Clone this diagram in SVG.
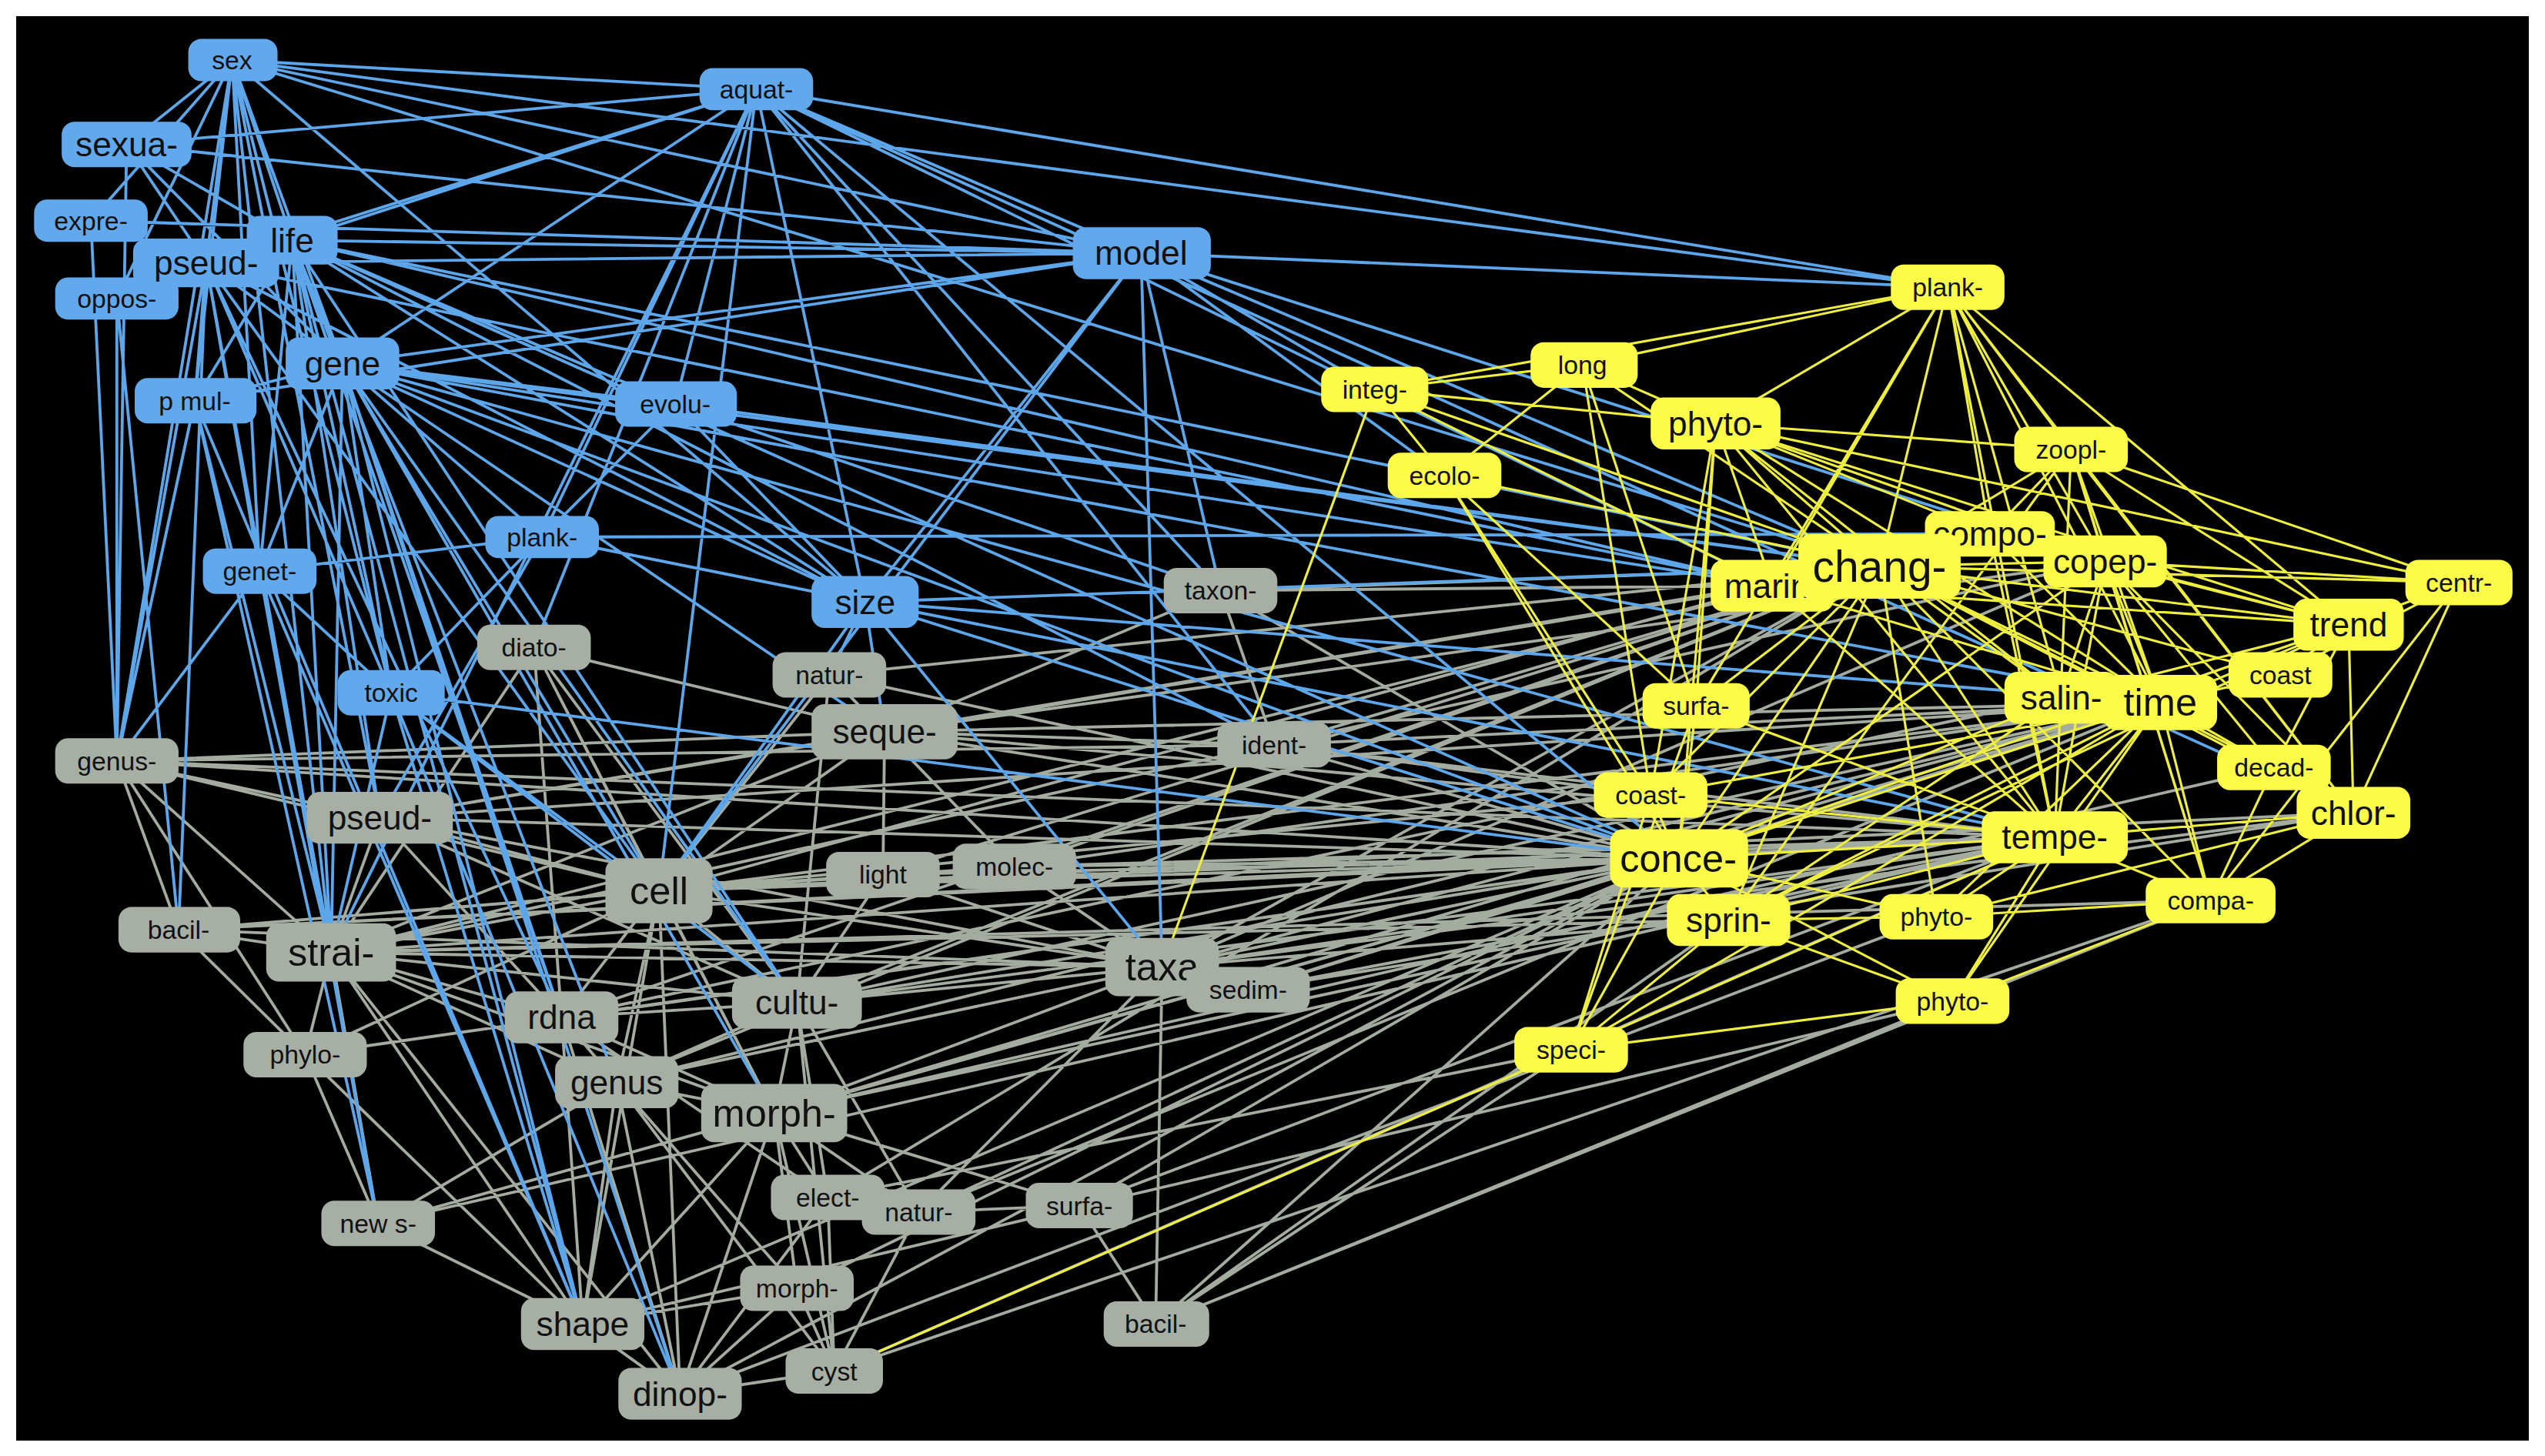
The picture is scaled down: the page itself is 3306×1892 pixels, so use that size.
<svg xmlns="http://www.w3.org/2000/svg" width="3306" height="1892" viewBox="0 0 3306 1892">
<style>
.b rect{fill:#62a8ec}.g rect{fill:#a7afa5}.y rect{fill:#fbfb48}
text{font-family:"Liberation Sans",Arial,sans-serif;font-size:16px;fill:#111;text-anchor:middle;dominant-baseline:central}
.L text{font-size:21px}.XL text{font-size:24px}
.eg{stroke:#a4ab9f;fill:none;stroke-width:1.8}.eb{stroke:#5ea6ea;fill:none;stroke-width:1.8}.ey{stroke:#eeee40;fill:none;stroke-width:1.5}
</style>
<rect width="3306" height="1892" fill="#fff"/>
<rect x="21" y="21" width="3264" height="1851" fill="#000"/>
<g transform="scale(2.1084)">
<g id="connectors">
<path class="eg" d="M72 469L406 549M72 469L234 504M72 469L204 587M72 469L545 451M72 469L1034 529M72 469L110 573M72 469L188 650M234 504L406 549M234 504L204 587M234 504L346 627M234 504L491 618M234 504L545 451M234 504L716 596M234 504L1034 529M406 549L204 587M406 549L346 627M406 549L491 618M406 549L380 667M406 549L477 686M406 549L544 539M406 549L625 534M406 549L716 596M406 549L545 451M406 549L419 859M406 549L359 816M406 549L1034 529M406 549L1266 516M406 549L1331 433M406 549L1017 490M204 587L110 573M204 587L188 650M204 587L346 627M204 587L380 667M204 587L477 686M204 587L491 618M204 587L359 816M204 587L233 754M204 587L419 859M204 587L716 596M204 587L545 451M204 587L1034 529M204 587L1065 567M346 627L380 667M346 627L477 686M346 627L491 618M346 627L359 816M346 627L419 859M346 627L510 738M491 618L477 686M491 618L716 596M491 618L380 667M491 618L510 738M491 618L566 747M491 618L514 845M491 618L544 539M491 618L1034 529M491 618L1331 433M477 686L380 667M477 686L491 794M477 686L510 738M477 686L566 747M477 686L419 859M477 686L514 845M477 686L359 816M477 686L716 596M477 686L665 743M477 686L1034 529M380 667L359 816M380 667L419 859M380 667L233 754M380 667L491 794M380 667L514 845M716 596L769 610M716 596L544 539M716 596L625 534M716 596L1034 529M716 596L1065 567M716 596L1266 516M716 596L1158 349M716 596L712 816M716 596L566 747M545 451L544 539M545 451L625 534M545 451L785 459M545 451L1034 529M545 451L1158 349M545 451L1331 433M545 451L511 416M785 459L1034 529M785 459L1158 349M785 459L752 364M785 459L1017 490M752 364L1158 349M752 364L1092 361M329 399L406 549M329 399L204 587M329 399L346 627M329 399L545 451M511 416L406 549M511 416L1034 529M359 816L419 859M359 816L233 754M359 816L188 650M188 650L233 754M188 650L110 573M510 738L566 747M510 738L514 845M510 738L419 859M510 738L968 647M566 747L665 743M566 747L514 845M665 743L712 816M665 743L1034 529M712 816L1203 617M712 816L968 647M712 816L1034 529M514 845L419 859M514 845L491 794M491 794L419 859M491 794L359 816M769 610L1034 529M769 610L1331 433M769 610L1450 501M544 539L1034 529M625 534L1034 529M625 534L1266 516M625 534L1158 349M110 573L1034 529M110 573L406 549M233 754L1266 516M359 816L1203 617M419 859L1193 565M514 845L1362 555M566 747L1331 433M380 667L1158 349M204 587L1297 346M346 627L1270 430M477 686L1401 473M234 504L1158 349M234 504L1331 433M72 469L1266 516M72 469L785 459M406 549L1092 361M406 549L1450 501M204 587L1226 329M204 587L1362 555M110 573L1266 516M110 573L716 596M346 627L1034 529M346 627L1158 349M491 618L1266 516M491 618L1158 349M477 686L1266 516M477 686L1331 433M716 596L1331 433M716 596L1297 346M716 596L1450 501M545 451L1266 516M545 451L1297 346M545 451L1092 361M785 459L1331 433M785 459L1266 516M625 534L1331 433M544 539L1158 349M769 610L1266 516M380 667L1034 529M380 667L1331 433M233 754L1034 529M359 816L1034 529M419 859L1034 529M514 845L1266 516M566 747L1034 529M665 743L1266 516M712 816L1065 567M712 816L1362 555M510 738L1158 349M491 794L1034 529M752 364L1034 529M752 364L545 451M329 399L491 618M329 399L477 686M511 416L491 618M511 416L1158 349M188 650L1034 529M188 650L406 549"/>
<path class="eb" d="M143 37L466 55M143 37L703 156M143 37L1200 177M143 37L78 89M143 37L56 136M143 37L180 148M143 37L127 162M143 37L72 184M143 37L211 224M143 37L120 247M143 37L160 352M143 37L241 427M143 37L533 371M143 37L204 587M143 37L234 504M143 37L72 469M143 37L1158 349M466 55L78 89M466 55L180 148M466 55L127 162M466 55L211 224M466 55L703 156M466 55L416 249M466 55L334 331M466 55L533 371M466 55L1450 501M466 55L1200 177M466 55L752 364M466 55L785 459M466 55L329 399M466 55L204 587M466 55L406 549M703 156L180 148M703 156L127 162M703 156L211 224M703 156L1200 177M703 156L1158 349M703 156L847 240M703 156L890 293M703 156L533 371M703 156L120 247M703 156L716 596M703 156L406 549M703 156L752 364M703 156L1297 346M703 156L78 89M180 148L211 224M180 148L120 247M180 148L160 352M180 148L241 427M180 148L533 371M180 148L1158 349M180 148L234 504M180 148L204 587M180 148L346 627M180 148L491 618M180 148L359 816M180 148L380 667M180 148L416 249M180 148L785 459M180 148L1092 361M127 162L211 224M127 162L120 247M127 162L160 352M127 162L56 136M127 162L78 89M127 162L241 427M127 162L204 587M127 162L533 371M127 162L406 549M127 162L346 627M127 162L233 754M127 162L72 469M127 162L110 573M211 224L120 247M211 224L416 249M211 224L334 331M211 224L160 352M211 224L533 371M211 224L241 427M211 224L204 587M211 224L406 549M211 224L491 618M211 224L346 627M211 224L477 686M211 224L545 451M211 224L1158 349M211 224L1034 529M211 224L359 816M211 224L419 859M211 224L1331 433M416 249L533 371M416 249L334 331M416 249L1158 349M416 249L752 364M334 331L533 371M334 331L241 427M334 331L160 352M334 331L1226 329M334 331L234 504M533 371L1158 349M533 371L1331 433M533 371L1266 516M533 371L1034 529M533 371L545 451M533 371L511 416M533 371L716 596M533 371L406 549M241 427L204 587M241 427L160 352M241 427L359 816M241 427L406 549M241 427L1034 529M78 89L180 148M78 89L211 224M78 89L72 469M56 136L72 469M72 184L72 469M72 184L110 573M120 247L72 469M120 247L204 587M160 352L204 587M160 352L72 469M160 352L359 816M160 352L233 754M78 89L703 156M56 136L703 156M127 162L1092 361M180 148L1034 529M211 224L1266 516M211 224L1092 361M143 37L127 162M466 55L1092 361M466 55L1034 529M120 247L359 816M120 247L233 754M241 427L419 859M241 427L491 618"/>
<path class="ey" d="M1200 177L975 225M1200 177L1057 261M1200 177L1276 277M1200 177L1226 329M1200 177L1158 349M1200 177L1297 346M1200 177L1331 433M1200 177L1447 385M1200 177L1270 430M1200 177L1266 516M1200 177L1450 501M1200 177L847 240M1200 177L1045 435M1200 177L1092 361M975 225L847 240M975 225L1057 261M975 225L1158 349M975 225L1045 435M975 225L1017 490M975 225L890 293M847 240L890 293M847 240L1057 261M847 240L1158 349M847 240L716 596M847 240L1092 361M1057 261L1158 349M1057 261L1276 277M1057 261L1226 329M1057 261L1297 346M1057 261L1092 361M1057 261L1331 433M1057 261L1447 385M1057 261L1270 430M1057 261L1266 516M1057 261L1515 359M1057 261L1045 435M1057 261L1017 490M1057 261L1034 529M890 293L1045 435M890 293L1034 529M890 293L1158 349M1276 277L1297 346M1276 277L1226 329M1276 277L1158 349M1276 277L1331 433M1276 277L1515 359M1276 277L1447 385M1276 277L1450 501M1276 277L1362 555M1276 277L1065 567M1276 277L1266 516M1158 349L1297 346M1158 349L1331 433M1158 349L1447 385M1158 349L1515 359M1158 349L1270 430M1158 349L1266 516M1158 349L1034 529M1158 349L1065 567M1158 349L1405 416M1158 349L1401 473M1158 349L1450 501M1158 349L1362 555M1158 349L1193 565M1158 349L1045 435M1158 349L1017 490M1297 346L1331 433M1297 346L1447 385M1297 346L1515 359M1297 346L1450 501M1297 346L1401 473M1297 346L1270 430M1297 346L1266 516M1297 346L1362 555M1297 346L1034 529M1331 433L1447 385M1331 433L1405 416M1331 433L1401 473M1331 433L1450 501M1331 433L1362 555M1331 433L1266 516M1331 433L1034 529M1331 433L1065 567M1331 433L1193 565M1331 433L1203 617M1331 433L968 647M1447 385L1515 359M1447 385L1450 501M1447 385L1405 416M1447 385L1401 473M1515 359L1450 501M1515 359L1362 555M1515 359L1405 416M1266 516L1034 529M1266 516L1065 567M1266 516L1362 555M1266 516L1450 501M1266 516L1193 565M1266 516L1203 617M1266 516L968 647M1034 529L1065 567M1034 529L1045 435M1034 529L1017 490M1034 529L968 647M1034 529L1193 565M1034 529L1203 617M1065 567L968 647M1065 567L1193 565M1065 567L1203 617M1203 617L1362 555M1203 617L968 647M968 647L1045 435M968 647L1017 490M1193 565L1362 555M1362 555L1450 501M1362 555L1401 473M968 647L514 845M1092 361L1331 433M1092 361L1266 516M1092 361L1447 385M1226 329L1331 433M1226 329L1447 385M1226 329L1266 516M1270 430L1447 385M1270 430L1034 529M1270 430L1065 567M1045 435L1266 516M1017 490L1331 433M1017 490L1266 516M1065 567L1447 385M1034 529L1447 385M1193 565L1450 501M890 293L1017 490"/>
</g>
<g id="n-sex" class="b"><rect x="116" y="24" width="55" height="26" rx="8"/><text x="143" y="37">sex</text></g>
<g id="n-aquat" class="b"><rect x="431" y="42" width="70" height="26" rx="8"/><text x="466" y="55">aquat-</text></g>
<g id="n-sexua" class="b L"><rect x="38" y="75" width="80" height="28" rx="8"/><text x="78" y="89">sexua-</text></g>
<g id="n-expre" class="b"><rect x="21" y="123" width="70" height="26" rx="8"/><text x="56" y="136">expre-</text></g>
<g id="n-oppos" class="b"><rect x="34" y="171" width="76" height="26" rx="8"/><text x="72" y="184">oppos-</text></g>
<g id="n-pseud" class="b L"><rect x="82" y="147" width="90" height="30" rx="8"/><text x="127" y="162">pseud-</text></g>
<g id="n-life" class="b L"><rect x="152" y="133" width="56" height="30" rx="8"/><text x="180" y="148">life</text></g>
<g id="n-model" class="b L"><rect x="661" y="140" width="85" height="32" rx="8"/><text x="703" y="156">model</text></g>
<g id="n-gene" class="b L"><rect x="176" y="208" width="70" height="32" rx="8"/><text x="211" y="224">gene</text></g>
<g id="n-pmul" class="b"><rect x="83" y="233" width="75" height="28" rx="8"/><text x="120" y="247">p mul-</text></g>
<g id="n-evolu" class="b"><rect x="379" y="235" width="75" height="28" rx="8"/><text x="416" y="249">evolu-</text></g>
<g id="n-plank" class="b"><rect x="299" y="318" width="70" height="26" rx="8"/><text x="334" y="331">plank-</text></g>
<g id="n-genet" class="b"><rect x="125" y="338" width="70" height="28" rx="8"/><text x="160" y="352">genet-</text></g>
<g id="n-size" class="b L"><rect x="500" y="355" width="66" height="32" rx="8"/><text x="533" y="371">size</text></g>
<g id="n-toxic" class="b"><rect x="208" y="413" width="66" height="28" rx="8"/><text x="241" y="427">toxic</text></g>
<g id="n-taxon" class="g"><rect x="717" y="350" width="70" height="28" rx="8"/><text x="752" y="364">taxon-</text></g>
<g id="n-diato" class="g"><rect x="294" y="385" width="70" height="28" rx="8"/><text x="329" y="399">diato-</text></g>
<g id="n-natur1" class="g"><rect x="476" y="402" width="70" height="28" rx="8"/><text x="511" y="416">natur-</text></g>
<g id="n-genus1" class="g"><rect x="34" y="455" width="76" height="28" rx="8"/><text x="72" y="469">genus-</text></g>
<g id="n-seque" class="g L"><rect x="500" y="434" width="90" height="34" rx="8"/><text x="545" y="451">seque-</text></g>
<g id="n-ident" class="g"><rect x="750" y="445" width="70" height="28" rx="8"/><text x="785" y="459">ident-</text></g>
<g id="n-pseud2" class="g L"><rect x="189" y="488" width="90" height="32" rx="8"/><text x="234" y="504">pseud-</text></g>
<g id="n-cell" class="g XL"><rect x="373" y="529" width="66" height="40" rx="8"/><text x="406" y="549">cell</text></g>
<g id="n-light" class="g"><rect x="509" y="525" width="70" height="28" rx="8"/><text x="544" y="539">light</text></g>
<g id="n-molec" class="g"><rect x="587" y="520" width="76" height="28" rx="8"/><text x="625" y="534">molec-</text></g>
<g id="n-bacil1" class="g"><rect x="73" y="559" width="75" height="28" rx="8"/><text x="110" y="573">bacil-</text></g>
<g id="n-strai" class="g XL"><rect x="164" y="569" width="80" height="36" rx="8"/><text x="204" y="587">strai-</text></g>
<g id="n-taxa" class="g XL"><rect x="681" y="578" width="70" height="36" rx="8"/><text x="716" y="596">taxa</text></g>
<g id="n-sedim" class="g"><rect x="731" y="596" width="76" height="28" rx="8"/><text x="769" y="610">sedim-</text></g>
<g id="n-rdna" class="g L"><rect x="311" y="611" width="70" height="32" rx="8"/><text x="346" y="627">rdna</text></g>
<g id="n-cultu" class="g L"><rect x="451" y="602" width="80" height="32" rx="8"/><text x="491" y="618">cultu-</text></g>
<g id="n-phylo" class="g"><rect x="150" y="636" width="76" height="28" rx="8"/><text x="188" y="650">phylo-</text></g>
<g id="n-genus2" class="g L"><rect x="342" y="651" width="76" height="32" rx="8"/><text x="380" y="667">genus</text></g>
<g id="n-morph1" class="g XL"><rect x="432" y="668" width="90" height="36" rx="8"/><text x="477" y="686">morph-</text></g>
<g id="n-elect" class="g"><rect x="475" y="724" width="70" height="28" rx="8"/><text x="510" y="738">elect-</text></g>
<g id="n-natur2" class="g"><rect x="531" y="733" width="70" height="28" rx="8"/><text x="566" y="747">natur-</text></g>
<g id="n-surfa1" class="g"><rect x="632" y="729" width="66" height="28" rx="8"/><text x="665" y="743">surfa-</text></g>
<g id="n-news" class="g"><rect x="198" y="740" width="70" height="28" rx="8"/><text x="233" y="754">new s-</text></g>
<g id="n-morph2" class="g"><rect x="456" y="780" width="70" height="28" rx="8"/><text x="491" y="794">morph-</text></g>
<g id="n-shape" class="g L"><rect x="321" y="800" width="76" height="32" rx="8"/><text x="359" y="816">shape</text></g>
<g id="n-bacil2" class="g"><rect x="680" y="802" width="65" height="28" rx="8"/><text x="712" y="816">bacil-</text></g>
<g id="n-cyst" class="g"><rect x="484" y="831" width="60" height="28" rx="8"/><text x="514" y="845">cyst</text></g>
<g id="n-dinop" class="g L"><rect x="381" y="843" width="76" height="32" rx="8"/><text x="419" y="859">dinop-</text></g>
<g id="n-plank2" class="y"><rect x="1165" y="163" width="70" height="28" rx="8"/><text x="1200" y="177">plank-</text></g>
<g id="n-long" class="y"><rect x="943" y="211" width="66" height="28" rx="8"/><text x="975" y="225">long</text></g>
<g id="n-integ" class="y"><rect x="814" y="226" width="66" height="28" rx="8"/><text x="847" y="240">integ-</text></g>
<g id="n-phyto1" class="y L"><rect x="1017" y="245" width="80" height="32" rx="8"/><text x="1057" y="261">phyto-</text></g>
<g id="n-ecolo" class="y"><rect x="855" y="279" width="70" height="28" rx="8"/><text x="890" y="293">ecolo-</text></g>
<g id="n-zoopl" class="y"><rect x="1241" y="263" width="70" height="28" rx="8"/><text x="1276" y="277">zoopl-</text></g>
<g id="n-marin" class="y L"><rect x="1054" y="345" width="76" height="32" rx="8"/><text x="1092" y="361">marin-</text></g>
<g id="n-compo" class="y L"><rect x="1186" y="315" width="80" height="28" rx="8"/><text x="1226" y="329">compo-</text></g>
<g id="n-chang" class="y XL"><rect x="1108" y="329" width="100" height="40" rx="8"/><text x="1158" y="349" style="font-size:27px">chang-</text></g>
<g id="n-copep" class="y L"><rect x="1259" y="330" width="76" height="32" rx="8"/><text x="1297" y="346">copep-</text></g>
<g id="n-centr" class="y"><rect x="1482" y="345" width="66" height="28" rx="8"/><text x="1515" y="359">centr-</text></g>
<g id="n-trend" class="y L"><rect x="1413" y="369" width="68" height="32" rx="8"/><text x="1447" y="385">trend</text></g>
<g id="n-coast1" class="y"><rect x="1373" y="402" width="64" height="28" rx="8"/><text x="1405" y="416">coast</text></g>
<g id="n-surfa2" class="y"><rect x="1012" y="421" width="66" height="28" rx="8"/><text x="1045" y="435">surfa-</text></g>
<g id="n-salin" class="y L"><rect x="1235" y="414" width="70" height="32" rx="8"/><text x="1270" y="430">salin-</text></g>
<g id="n-time" class="y XL"><rect x="1296" y="416" width="70" height="34" rx="8"/><text x="1331" y="433">time</text></g>
<g id="n-decad" class="y"><rect x="1366" y="459" width="70" height="28" rx="8"/><text x="1401" y="473">decad-</text></g>
<g id="n-chlor" class="y L"><rect x="1415" y="485" width="70" height="32" rx="8"/><text x="1450" y="501">chlor-</text></g>
<g id="n-coast2" class="y"><rect x="982" y="476" width="70" height="28" rx="8"/><text x="1017" y="490">coast-</text></g>
<g id="n-tempe" class="y L"><rect x="1221" y="500" width="90" height="32" rx="8"/><text x="1266" y="516">tempe-</text></g>
<g id="n-conce" class="y XL"><rect x="992" y="511" width="85" height="36" rx="8"/><text x="1034" y="529">conce-</text></g>
<g id="n-compa" class="y"><rect x="1322" y="541" width="80" height="28" rx="8"/><text x="1362" y="555">compa-</text></g>
<g id="n-sprin" class="y L"><rect x="1027" y="551" width="76" height="32" rx="8"/><text x="1065" y="567">sprin-</text></g>
<g id="n-phyto2" class="y"><rect x="1158" y="551" width="70" height="28" rx="8"/><text x="1193" y="565">phyto-</text></g>
<g id="n-phyto3" class="y"><rect x="1168" y="603" width="70" height="28" rx="8"/><text x="1203" y="617">phyto-</text></g>
<g id="n-speci" class="y"><rect x="933" y="633" width="70" height="28" rx="8"/><text x="968" y="647">speci-</text></g>
</g>
</svg>
